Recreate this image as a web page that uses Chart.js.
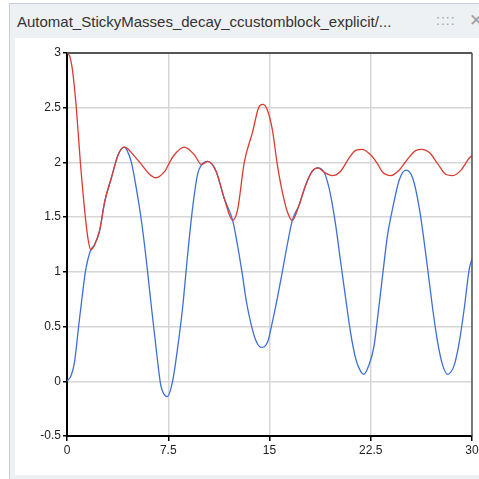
<!DOCTYPE html>
<html>
<head>
<meta charset="utf-8">
<script src="https://cdn.jsdelivr.net/npm/chart.js@4/dist/chart.umd.min.js"></script>
<style>
    body { margin: 0; background: #fff; width: 479px; height: 479px; overflow: hidden; font-family: "Liberation Sans", Arial, sans-serif; }
    .panel { position: absolute; left: 9px; top: 3px; width: 470px; height: 476px; border-left: 1px solid #c9ced4; border-top: 1px solid #c9ced4; background: #eef1f4; }
    .title { position: absolute; left: 7px; top: 9px; font-size: 15px; color: #333; white-space: nowrap; }
    .grip { position: absolute; left: 426px; top: 8px; font-size: 14px; color: #9aa0a6; letter-spacing: 1px; }
    .close { position: absolute; left: 459px; top: 6px; font-size: 17px; color: #9aa0a6; }
    .content { position: absolute; left: 15px; top: 38px; width: 464px; height: 437px; background: #fff; overflow: hidden; }
</style>
</head>
<body>
<div class="panel">
    <div class="title">Automat_StickyMasses_decay_ccustomblock_explicit/...</div>
    <div class="grip">::::</div>
    <div class="close">✕</div>
</div>
<div class="content"><canvas id="plot" width="464" height="437"></canvas></div>

<script>
(function () {
    "use strict";

    // Data
    var xTicks = [0, 7.5, 15, 22.5, 30];
    var yTicks = [-0.5, 0, 0.5, 1, 1.5, 2, 2.5, 3];

    var redTime = [0, 0.2, 0.4, 0.52, 0.69, 0.99, 1.36, 1.56, 1.76, 2.05, 2.42, 2.79, 3.29, 3.79, 4.23, 4.45,
        4.77, 5.52, 6.13, 6.56, 7.25, 7.6, 7.95, 8.69, 9.43, 9.97, 10.42, 11.04, 11.65, 12.27, 12.64, 13.13,
        13.75, 14.19, 14.49, 14.84, 15.21, 15.58, 15.95, 16.32, 16.69, 17.19, 17.67, 18.17, 18.59, 19.05,
        19.65, 20.27, 20.89, 21.38, 21.87, 22.49, 22.99, 23.38, 24.0, 24.61, 25.23, 25.85, 26.3, 26.84,
        27.45, 28.07, 28.56, 29.19, 29.8, 30];
    var redValue = [3, 2.97, 2.85, 2.72, 2.5, 2.0, 1.5, 1.3, 1.2, 1.25, 1.38, 1.64, 1.86, 2.07, 2.14, 2.13,
        2.09, 1.98, 1.89, 1.86, 1.92, 2.0, 2.07, 2.14, 2.07, 1.98, 2.01, 1.92, 1.67, 1.47, 1.57, 2.0,
        2.28, 2.5, 2.53, 2.48, 2.3, 1.98, 1.73, 1.55, 1.47, 1.61, 1.79, 1.92, 1.95, 1.91,
        1.88, 1.92, 2.04, 2.11, 2.12, 2.07, 1.99, 1.91, 1.88, 1.93, 2.03, 2.11, 2.12, 2.09,
        1.99, 1.89, 1.88, 1.93, 2.04, 2.06];

    var blueTime = [0, 0.3, 0.55, 0.86, 1.1, 1.36, 1.56, 1.76, 2.05, 2.42, 2.79, 3.29, 3.79, 4.23, 4.45,
        4.77, 5.14, 5.52, 5.89, 6.26, 6.63, 6.95, 7.2, 7.42, 7.82, 8.19, 8.56, 8.93, 9.3, 9.67, 9.97,
        10.42, 11.04, 11.65, 12.27, 12.55, 12.96, 13.3, 13.68, 14.0, 14.37, 14.86, 15.21, 15.58, 15.95,
        16.32, 16.69, 17.19, 17.67, 18.17, 18.59, 19.05, 19.3, 19.53, 19.9, 20.27, 20.64, 21.0, 21.38,
        21.75, 22.0, 22.37, 22.74, 22.95, 23.38, 23.75, 24.12, 24.61, 25.11, 25.6, 26.1, 26.59, 27.08,
        27.45, 27.82, 28.19, 28.69, 29.06, 29.43, 29.8, 30];
    var blueValue = [0, 0.05, 0.17, 0.5, 0.75, 1.0, 1.12, 1.2, 1.25, 1.38, 1.64, 1.86, 2.07, 2.14, 2.11,
        2.0, 1.76, 1.46, 1.09, 0.67, 0.27, -0.04, -0.12, -0.14, 0.0, 0.3, 0.67, 1.15, 1.58, 1.89, 1.98,
        2.01, 1.92, 1.67, 1.47, 1.3, 1.0, 0.72, 0.5, 0.37, 0.31, 0.36, 0.54, 0.76, 1.0,
        1.25, 1.47, 1.61, 1.79, 1.92, 1.95, 1.91, 1.82, 1.7, 1.43, 1.09, 0.76, 0.45, 0.21,
        0.09, 0.064, 0.15, 0.32, 0.52, 0.97, 1.34, 1.58, 1.84, 1.93, 1.86, 1.58, 1.15, 0.67,
        0.36, 0.15, 0.064, 0.15, 0.36, 0.67, 1.03, 1.12];

    function points(times, values) {
        return times.map(function (t, i) { return { x: t, y: values[i] }; });
    }

    // Dark frame on the top and right of the plot
    var frameLines = {
        id: "frameLines",
        afterDatasetsDraw: function (chart) {
            var a = chart.chartArea, c = chart.ctx;
            c.save();
            c.strokeStyle = "#555";
            c.lineWidth = 2;
            c.beginPath();
            c.moveTo(a.left, a.top);
            c.lineTo(a.right, a.top);
            c.stroke();
            c.lineWidth = 1.5;
            c.beginPath();
            c.moveTo(a.right, a.top);
            c.lineTo(a.right, a.bottom);
            c.stroke();
            c.restore();
        }
    };

    var tickFont = { family: "'Liberation Sans', Arial, sans-serif", size: 12 };

    var ctx = document.getElementById("plot").getContext("2d");
    var plot = new Chart(ctx, {
        type: "line",
        data: {
            datasets: [{
                data: points(redTime, redValue),
                borderColor: "#db3b30",
                borderWidth: 1.3,
                pointRadius: 0,
                cubicInterpolationMode: "monotone",
                fill: false
            }, {
                data: points(blueTime, blueValue),
                borderColor: "#3d6fd9",
                borderWidth: 1.3,
                pointRadius: 0,
                cubicInterpolationMode: "monotone",
                fill: false
            }]
        },
        options: {
            responsive: false,
            animation: false,
            devicePixelRatio: 1,
            layout: { padding: { left: 0, top: 15, right: 7, bottom: 0 } },
            plugins: { legend: { display: false }, tooltip: { enabled: false } },
            scales: {
                x: {
                    type: "linear",
                    min: 0,
                    max: 30,
                    afterBuildTicks: function (s) { s.ticks = xTicks.map(function (v) { return { value: v }; }); },
                    afterFit: function (s) { s.height = 39; s.paddingLeft = 0; s.paddingRight = 0; },
                    ticks: { autoSkip: false, maxRotation: 0, padding: 2, color: "#222", font: tickFont,
                        callback: function (v) { return String(v); } },
                    grid: { color: "#d6d6d6", lineWidth: 1.5, tickColor: "#000", tickLength: 5 },
                    border: { color: "#000", width: 2 }
                },
                y: {
                    min: -0.5,
                    max: 3,
                    afterBuildTicks: function (s) { s.ticks = yTicks.map(function (v) { return { value: v }; }); },
                    afterFit: function (s) { s.width = 52; s.paddingTop = 0; s.paddingBottom = 0; },
                    ticks: { autoSkip: false, padding: 2, color: "#222", font: tickFont,
                        callback: function (v) { return String(v); } },
                    grid: { color: "#d6d6d6", lineWidth: 1.5, tickColor: "#000", tickLength: 4 },
                    border: { color: "#000", width: 2 }
                }
            }
        },
        plugins: [frameLines]
    });
})();
</script>
</body>
</html>
